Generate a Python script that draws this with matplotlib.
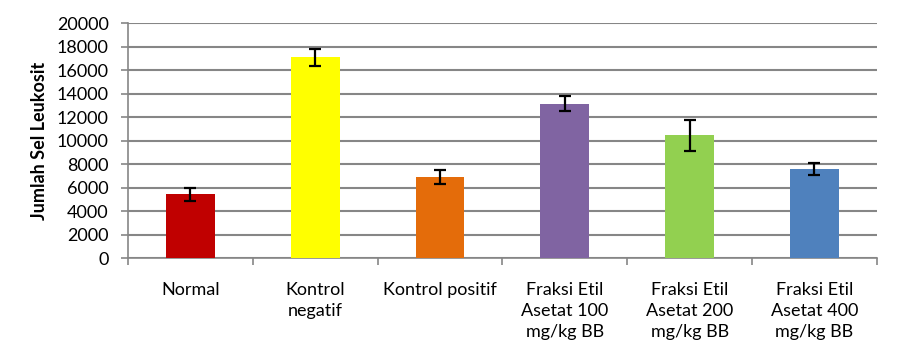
import numpy as np
import matplotlib.pyplot as plt
from matplotlib.ticker import FixedLocator

plt.rcParams['font.family'] = ['Lato', 'DejaVu Sans']

# data
categories = ['Normal', 'Kontrol\nnegatif', 'Kontrol positif',
              'Fraksi Etil\nAsetat 100\nmg/kg BB', 'Fraksi Etil\nAsetat 200\nmg/kg BB',
              'Fraksi Etil\nAsetat 400\nmg/kg BB']
means = [5420, 17080, 6870, 13160, 10440, 7570]
errors = [530, 730, 600, 640, 1300, 510]
colors = ['#C00000', '#FFFF00', '#E46C0A', '#8064A2', '#92D050', '#4F81BD']
yticks = list(range(0, 20001, 2000))

fig = plt.figure(figsize=(9.02, 3.62), dpi=100)
ax = fig.add_axes([0.142, 0.287, 0.830, 0.649])

x = np.arange(len(categories))
ax.bar(x, means, width=0.39, color=colors, zorder=3,
       yerr=errors, error_kw=dict(ecolor='black', elinewidth=1.6, capsize=4, capthick=1.6))

ax.set_xlim(-0.5, len(categories) - 0.5)
ax.set_ylim(0, 20000)
ax.set_yticks(yticks)
ax.grid(axis='y', color='#868686', linewidth=1.5, zorder=0)

ax.set_xticks(x)
ax.set_xticklabels(categories, fontsize=13, linespacing=1.4, va='top')
ax.tick_params(axis='x', which='major', length=0, pad=17)
ax.xaxis.set_minor_locator(FixedLocator(np.arange(-0.5, len(categories), 1)))
ax.tick_params(axis='x', which='minor', length=5, color='#868686', width=1.2)
ax.tick_params(axis='y', length=5, color='#868686', width=1.2, labelsize=13, pad=9)

for s in ['top', 'right']:
    ax.spines[s].set_visible(False)
for s in ['left', 'bottom']:
    ax.spines[s].set_color('#868686')
    ax.spines[s].set_linewidth(1.2)

ax.set_ylabel('Jumlah Sel Leukosit', fontsize=13, fontweight='bold', labelpad=6)

fig.savefig('out.png', dpi=100)
